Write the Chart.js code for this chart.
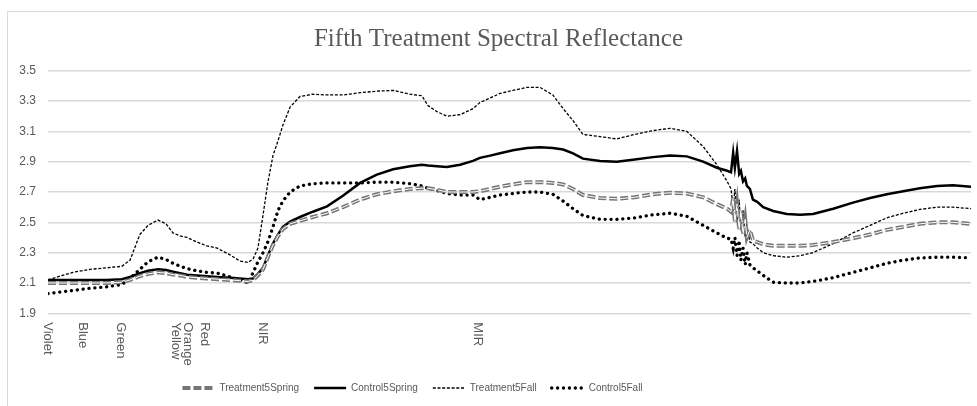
<!DOCTYPE html>
<html>
<head>
<meta charset="utf-8">
<title>Fifth Treatment Spectral Reflectance</title>
<script src="https://cdn.jsdelivr.net/npm/chart.js@4.4.1/dist/chart.umd.min.js"></script>
<style>
  html, body { margin: 0; padding: 0; background: #fff; }
  #wrap { width: 977px; height: 406px; }
</style>
</head>
<body>
<div id="wrap"><canvas id="chart" width="977" height="406"></canvas></div>
<script>
// wavelength (nm) of each sample along the x axis
var wavelengths = [350, 378, 408, 448, 487, 522, 541, 564, 583, 606, 625, 641, 658, 674, 697, 720, 744, 774, 797, 816,
  828, 839, 851, 862, 874, 886, 897, 914, 937, 967, 1000, 1037, 1077, 1116, 1154, 1193, 1221, 1235, 1256, 1279,
  1310, 1340, 1356, 1380, 1403, 1433, 1466, 1496, 1526, 1550, 1573, 1596, 1636, 1675, 1717, 1759, 1799, 1838, 1876, 1908,
  1932, 1941, 1946, 1950, 1955, 1960, 1964, 1969, 1974, 1978, 1985, 1992, 2002, 2016, 2039, 2071, 2102, 2132, 2179, 2225,
  2265, 2304, 2342, 2381, 2421, 2458, 2500];

var treatment5Spring = [2.10, 2.10, 2.10, 2.10, 2.10, 2.105, 2.12, 2.145, 2.16, 2.17, 2.165, 2.155, 2.15, 2.14, 2.135, 2.13, 2.125, 2.12, 2.115, 2.11,
  2.12, 2.15, 2.19, 2.27, 2.35, 2.41, 2.455, 2.49, 2.51, 2.535, 2.56, 2.60, 2.65, 2.685, 2.705, 2.72, 2.725, 2.725, 2.715, 2.70,
  2.70, 2.70, 2.705, 2.72, 2.735, 2.75, 2.765, 2.765, 2.76, 2.75, 2.72, 2.68, 2.66, 2.655, 2.665, 2.685, 2.695, 2.69, 2.665, 2.62,
  2.59, 2.57, 2.66, 2.50, 2.62, 2.45, 2.58, 2.42, 2.52, 2.40, 2.45, 2.38, 2.37, 2.355, 2.345, 2.345, 2.345, 2.35, 2.37, 2.395,
  2.42, 2.45, 2.47, 2.49, 2.50, 2.50, 2.49];

var control5Spring = [2.12, 2.12, 2.12, 2.12, 2.12, 2.125, 2.14, 2.165, 2.18, 2.19, 2.185, 2.175, 2.165, 2.155, 2.15, 2.145, 2.14, 2.135, 2.13, 2.125,
  2.13, 2.16, 2.20, 2.28, 2.36, 2.42, 2.47, 2.505, 2.535, 2.57, 2.605, 2.675, 2.76, 2.815, 2.85, 2.87, 2.88, 2.875, 2.87, 2.865,
  2.88, 2.905, 2.925, 2.94, 2.955, 2.975, 2.99, 2.995, 2.99, 2.98, 2.955, 2.92, 2.905, 2.90, 2.915, 2.93, 2.94, 2.935, 2.90, 2.86,
  2.84, 2.83, 2.96, 2.86, 2.97, 2.82, 2.84, 2.77, 2.79, 2.74, 2.72, 2.65, 2.635, 2.60, 2.575, 2.555, 2.55, 2.555, 2.59, 2.63,
  2.66, 2.685, 2.705, 2.725, 2.74, 2.745, 2.735];

var treatment5Fall = [2.12, 2.145, 2.17, 2.19, 2.20, 2.21, 2.25, 2.42, 2.48, 2.515, 2.49, 2.43, 2.41, 2.40, 2.37, 2.345, 2.33, 2.285, 2.245, 2.235,
  2.26, 2.33, 2.55, 2.76, 2.94, 3.04, 3.14, 3.26, 3.33, 3.345, 3.34, 3.34, 3.355, 3.365, 3.37, 3.345, 3.335, 3.27, 3.23, 3.20,
  3.21, 3.25, 3.29, 3.32, 3.35, 3.37, 3.39, 3.39, 3.34, 3.25, 3.17, 3.08, 3.065, 3.05, 3.08, 3.105, 3.12, 3.10, 3.00, 2.88,
  2.77, 2.72, 2.60, 2.72, 2.50, 2.65, 2.45, 2.58, 2.40, 2.48, 2.37, 2.36, 2.33, 2.30, 2.28, 2.27, 2.28, 2.30, 2.36, 2.43,
  2.48, 2.53, 2.56, 2.585, 2.60, 2.60, 2.59];

var control5Fall = [2.03, 2.04, 2.05, 2.065, 2.075, 2.09, 2.13, 2.19, 2.24, 2.27, 2.255, 2.23, 2.21, 2.195, 2.18, 2.17, 2.165, 2.14, 2.12, 2.10,
  2.17, 2.24, 2.30, 2.37, 2.47, 2.58, 2.64, 2.70, 2.74, 2.755, 2.76, 2.76, 2.76, 2.765, 2.765, 2.755, 2.74, 2.725, 2.71, 2.69,
  2.68, 2.68, 2.65, 2.665, 2.68, 2.69, 2.70, 2.70, 2.685, 2.64, 2.59, 2.545, 2.52, 2.52, 2.53, 2.55, 2.56, 2.54, 2.48, 2.43,
  2.395, 2.39, 2.33, 2.40, 2.28, 2.38, 2.25, 2.33, 2.22, 2.30, 2.22, 2.20, 2.18, 2.15, 2.105, 2.10, 2.10, 2.11, 2.135, 2.17,
  2.20, 2.23, 2.25, 2.265, 2.27, 2.27, 2.265];

// band names under the x axis and the wavelength they sit at
var bandNames = [['Violet'], ['Blue'], ['Green'], ['Orange', 'Yellow'], ['Red'], ['NIR'], ['MIR']];
var bandPositions = [350, 430, 520, 660, 715, 850, 1350];

var yMin = 1.9, yMax = 3.5, yStep = 0.2;

var grayText = '#595959';
var legendShift = -73;
var titleShift = 13;

function pts(values) {
  return wavelengths.map(function (w, i) { return { x: w, y: values[i] }; });
}

// light frame around the chart, and nudge title/legend like the original
var frame = {
  id: 'frame',
  beforeDraw: function (chart) {
    var c = chart.ctx;
    c.save();
    c.fillStyle = '#ffffff';
    c.fillRect(0, 0, chart.width, chart.height);
    c.strokeStyle = '#d9d9d9';
    c.lineWidth = 1;
    c.strokeRect(7.5, 11.5, chart.width + 20, chart.height + 20);
    c.restore();
  },
  afterLayout: function (chart) {
    var lg = chart.legend;
    lg.left += legendShift;
    lg.right += legendShift;
    if (lg.adjustHitBoxes) lg.adjustHitBoxes();
    var tb = chart.titleBlock;
    if (tb) { tb.left += titleShift; tb.right += titleShift; }
  }
};

// white core line so Treatment5Spring looks like a double line
var doubleLine = {
  id: 'doubleLine',
  afterDatasetDraw: function (chart, args) {
    if (args.index !== 0) return;
    var c = chart.ctx, p = args.meta.data;
    c.save();
    c.strokeStyle = '#ffffff';
    c.lineWidth = 1;
    c.setLineDash([8, 3]);
    c.beginPath();
    p.forEach(function (pt, i) {
      if (i === 0) c.moveTo(pt.x, pt.y); else c.lineTo(pt.x, pt.y);
    });
    c.stroke();
    c.restore();
  },
  afterDraw: function (chart) {
    var hb = chart.legend.legendHitBoxes[0];
    if (!hb) return;
    var c = chart.ctx;
    var y = hb.top + hb.height / 2;
    c.save();
    c.strokeStyle = '#ffffff';
    c.lineWidth = 1;
    c.setLineDash([8, 3]);
    c.beginPath();
    c.moveTo(hb.left, y);
    c.lineTo(hb.left + 32, y);
    c.stroke();
    c.restore();
  }
};

// rotated band names, reading top to bottom
var bandLabels = {
  id: 'bandLabels',
  afterDraw: function (chart) {
    var c = chart.ctx, xs = chart.scales.x;
    var top = chart.chartArea.bottom + 9;
    c.save();
    c.fillStyle = grayText;
    c.font = '13px "Liberation Sans", Arial, sans-serif';
    c.textAlign = 'left';
    c.textBaseline = 'middle';
    bandNames.forEach(function (lines, i) {
      var x = xs.getPixelForValue(bandPositions[i]);
      c.save();
      c.translate(x, top);
      c.rotate(Math.PI / 2);
      lines.forEach(function (t, j) {
        c.fillText(t, 0, (j - (lines.length - 1) / 2) * 12);
      });
      c.restore();
    });
    c.restore();
  }
};

var ctx = document.getElementById('chart').getContext('2d');
var chart = new Chart(ctx, {
  type: 'line',
  data: {
    datasets: [{
      label: 'Treatment5Spring',
      data: pts(treatment5Spring),
      borderColor: '#767676',
      borderWidth: 4,
      borderDash: [8, 3],
      pointRadius: 0,
      tension: 0
    }, {
      label: 'Control5Spring',
      data: pts(control5Spring),
      borderColor: '#000000',
      borderWidth: 2.5,
      pointRadius: 0,
      tension: 0
    }, {
      label: 'Treatment5Fall',
      data: pts(treatment5Fall),
      borderColor: '#000000',
      borderWidth: 1.3,
      borderDash: [3, 1.7],
      pointRadius: 0,
      tension: 0
    }, {
      label: 'Control5Fall',
      data: pts(control5Fall),
      borderColor: '#000000',
      borderWidth: 3.3,
      borderDash: [0.1, 5.8],
      borderCapStyle: 'round',
      pointRadius: 0,
      tension: 0
    }]
  },
  options: {
    responsive: false,
    animation: false,
    devicePixelRatio: 1,
    layout: { padding: { left: 0, right: 6, top: 0, bottom: 3 } },
    scales: {
      x: {
        type: 'linear',
        min: wavelengths[0],
        max: wavelengths[wavelengths.length - 1],
        grid: { display: false },
        border: { display: false },
        ticks: { display: false },
        afterFit: function (s) { s.height = 54.7; }
      },
      y: {
        min: yMin,
        max: yMax,
        grid: { color: '#d9d9d9', lineWidth: 1.5, drawTicks: false },
        border: { display: false },
        ticks: {
          stepSize: yStep,
          padding: 12,
          color: grayText,
          font: { family: '"Liberation Sans", Arial, sans-serif', size: 12 },
          callback: function (v) { return Number(v).toFixed(1); }
        },
        afterFit: function (s) { s.width = 48; }
      }
    },
    plugins: {
      title: {
        display: true,
        text: 'Fifth Treatment Spectral Reflectance',
        color: grayText,
        font: { family: '"Liberation Serif", "Times New Roman", serif', size: 25, weight: 'normal' },
        padding: { top: 24, bottom: 16.7 }
      },
      legend: {
        position: 'bottom',
        labels: {
          usePointStyle: true,
          pointStyle: 'line',
          pointStyleWidth: 32,
          padding: 15,
          color: grayText,
          font: { family: '"Liberation Sans", Arial, sans-serif', size: 10 },
          generateLabels: function (chart) {
            var items = Chart.defaults.plugins.legend.labels.generateLabels(chart);
            items.forEach(function (it) {
              var ds = chart.data.datasets[it.datasetIndex];
              it.lineDash = ds.borderDash || [];
              it.lineCap = ds.borderCapStyle || 'butt';
              it.lineWidth = ds.borderWidth;
              it.strokeStyle = ds.borderColor;
            });
            return items;
          }
        }
      },
      tooltip: { enabled: false }
    }
  },
  plugins: [frame, doubleLine, bandLabels]
});
</script>
</body>
</html>
